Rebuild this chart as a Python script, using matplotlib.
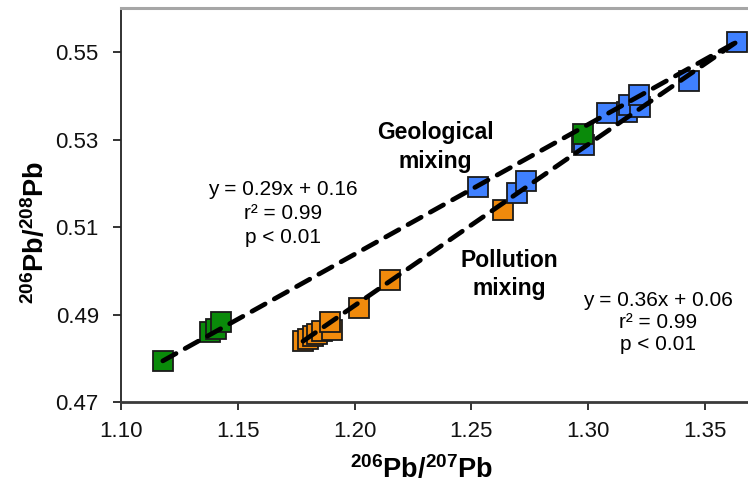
import matplotlib
matplotlib.use("Agg")
import matplotlib.pyplot as plt

plt.rcParams['font.family'] = ['Liberation Sans', 'DejaVu Sans']
plt.rcParams['mathtext.fontset'] = 'custom'
plt.rcParams['mathtext.rm'] = 'Liberation Sans'
plt.rcParams['mathtext.bf'] = 'Liberation Sans:bold'

# 206Pb/207Pb (x) and 206Pb/208Pb (y)
orange_x = [1.1779, 1.1800, 1.1821, 1.1839, 1.1861, 1.1902, 1.1896, 1.2019, 1.2152, 1.2636]
orange_y = [0.4839, 0.4844, 0.4850, 0.4855, 0.4863, 0.4865, 0.4884, 0.4915, 0.4979, 0.5139]

blue_x = [1.2528, 1.2697, 1.2733, 1.2973, 1.2980, 1.3080, 1.3166, 1.3173, 1.3223, 1.3216, 1.3430, 1.3637]
blue_y = [0.5192, 0.5177, 0.5206, 0.5295, 0.5287, 0.5360, 0.5364, 0.5379, 0.5375, 0.5402, 0.5434, 0.5524]

green_x = [1.1179, 1.1381, 1.1407, 1.1427, 1.2977]
green_y = [0.4794, 0.4861, 0.4868, 0.4882, 0.5314]

xticks = [1.10, 1.15, 1.20, 1.25, 1.30, 1.35]
yticks = [0.47, 0.49, 0.51, 0.53, 0.55]

geo_eq = "y = 0.29x + 0.16\nr\u00b2 = 0.99\np < 0.01"
pol_eq = "y = 0.36x + 0.06\nr\u00b2 = 0.99\np < 0.01"

fig = plt.figure(figsize=(7.48, 4.84), dpi=100)
ax = fig.add_axes([121/748, 82/484, 627/748, 394/484])

mk = dict(marker='s', linestyle='none', markersize=14, markeredgecolor='#1a1a1a',
          markeredgewidth=1.3)
ax.plot(orange_x, orange_y, markerfacecolor='#F08A0C', **mk)
ax.plot(blue_x, blue_y, markerfacecolor='#3F80FF', **mk)
ax.plot(green_x, green_y, markerfacecolor='#0A8A0A', **mk)

# mixing lines between end members
top = blue_y.index(max(blue_y))
ln = dict(color='black', linewidth=3.4, dashes=(3.2, 2.2), dash_capstyle='round', zorder=5)
ax.plot([green_x[0], blue_x[top]], [green_y[0], blue_y[top]], **ln)
ax.plot([orange_x[0], blue_x[top]], [orange_y[0], blue_y[top]], **ln)

ax.text(1.2345, 0.5283, "Geological\nmixing", ha='center', va='center',
        fontsize=16.5, fontweight='bold', linespacing=1.3)
ax.text(1.2662, 0.4991, "Pollution\nmixing", ha='center', va='center',
        fontsize=16.5, fontweight='bold', linespacing=1.3)
ax.text(1.1694, 0.5131, geo_eq, ha='center', va='center', fontsize=15, linespacing=1.35)
ax.text(1.3300, 0.4882, pol_eq, ha='center', va='center', fontsize=15, linespacing=1.2)

ax.set_xlim(1.10, 1.3684)
ax.set_ylim(0.47, 0.5601)
ax.set_xticks(xticks)
ax.set_xticklabels([f"{t:.2f}" for t in xticks])
ax.set_yticks(yticks)
ax.set_yticklabels([f"{t:.2f}" for t in yticks])
ax.tick_params(direction='out', length=6, width=1.2, labelsize=16, colors='#111111')
ax.tick_params(axis='y', pad=10)
ax.tick_params(axis='x', pad=8)

ax.spines['right'].set_visible(False)
ax.spines['top'].set_color('#a6a6a6')
ax.spines['top'].set_linewidth(2.2)
ax.spines['bottom'].set_color('#3a3a3a')
ax.spines['bottom'].set_linewidth(2)
ax.spines['left'].set_color('#222222')
ax.spines['left'].set_linewidth(1.3)

ax.set_xlabel(r'$\mathbf{^{206}Pb/^{207}Pb}$', fontsize=19.5)
ax.set_ylabel(r'$\mathbf{^{206}Pb/^{208}Pb}$', fontsize=19.5)
ax.xaxis.set_label_coords(0.48, -0.135)
ax.yaxis.set_label_coords(-0.114, 0.43)

fig.savefig("out.png", dpi=100)
